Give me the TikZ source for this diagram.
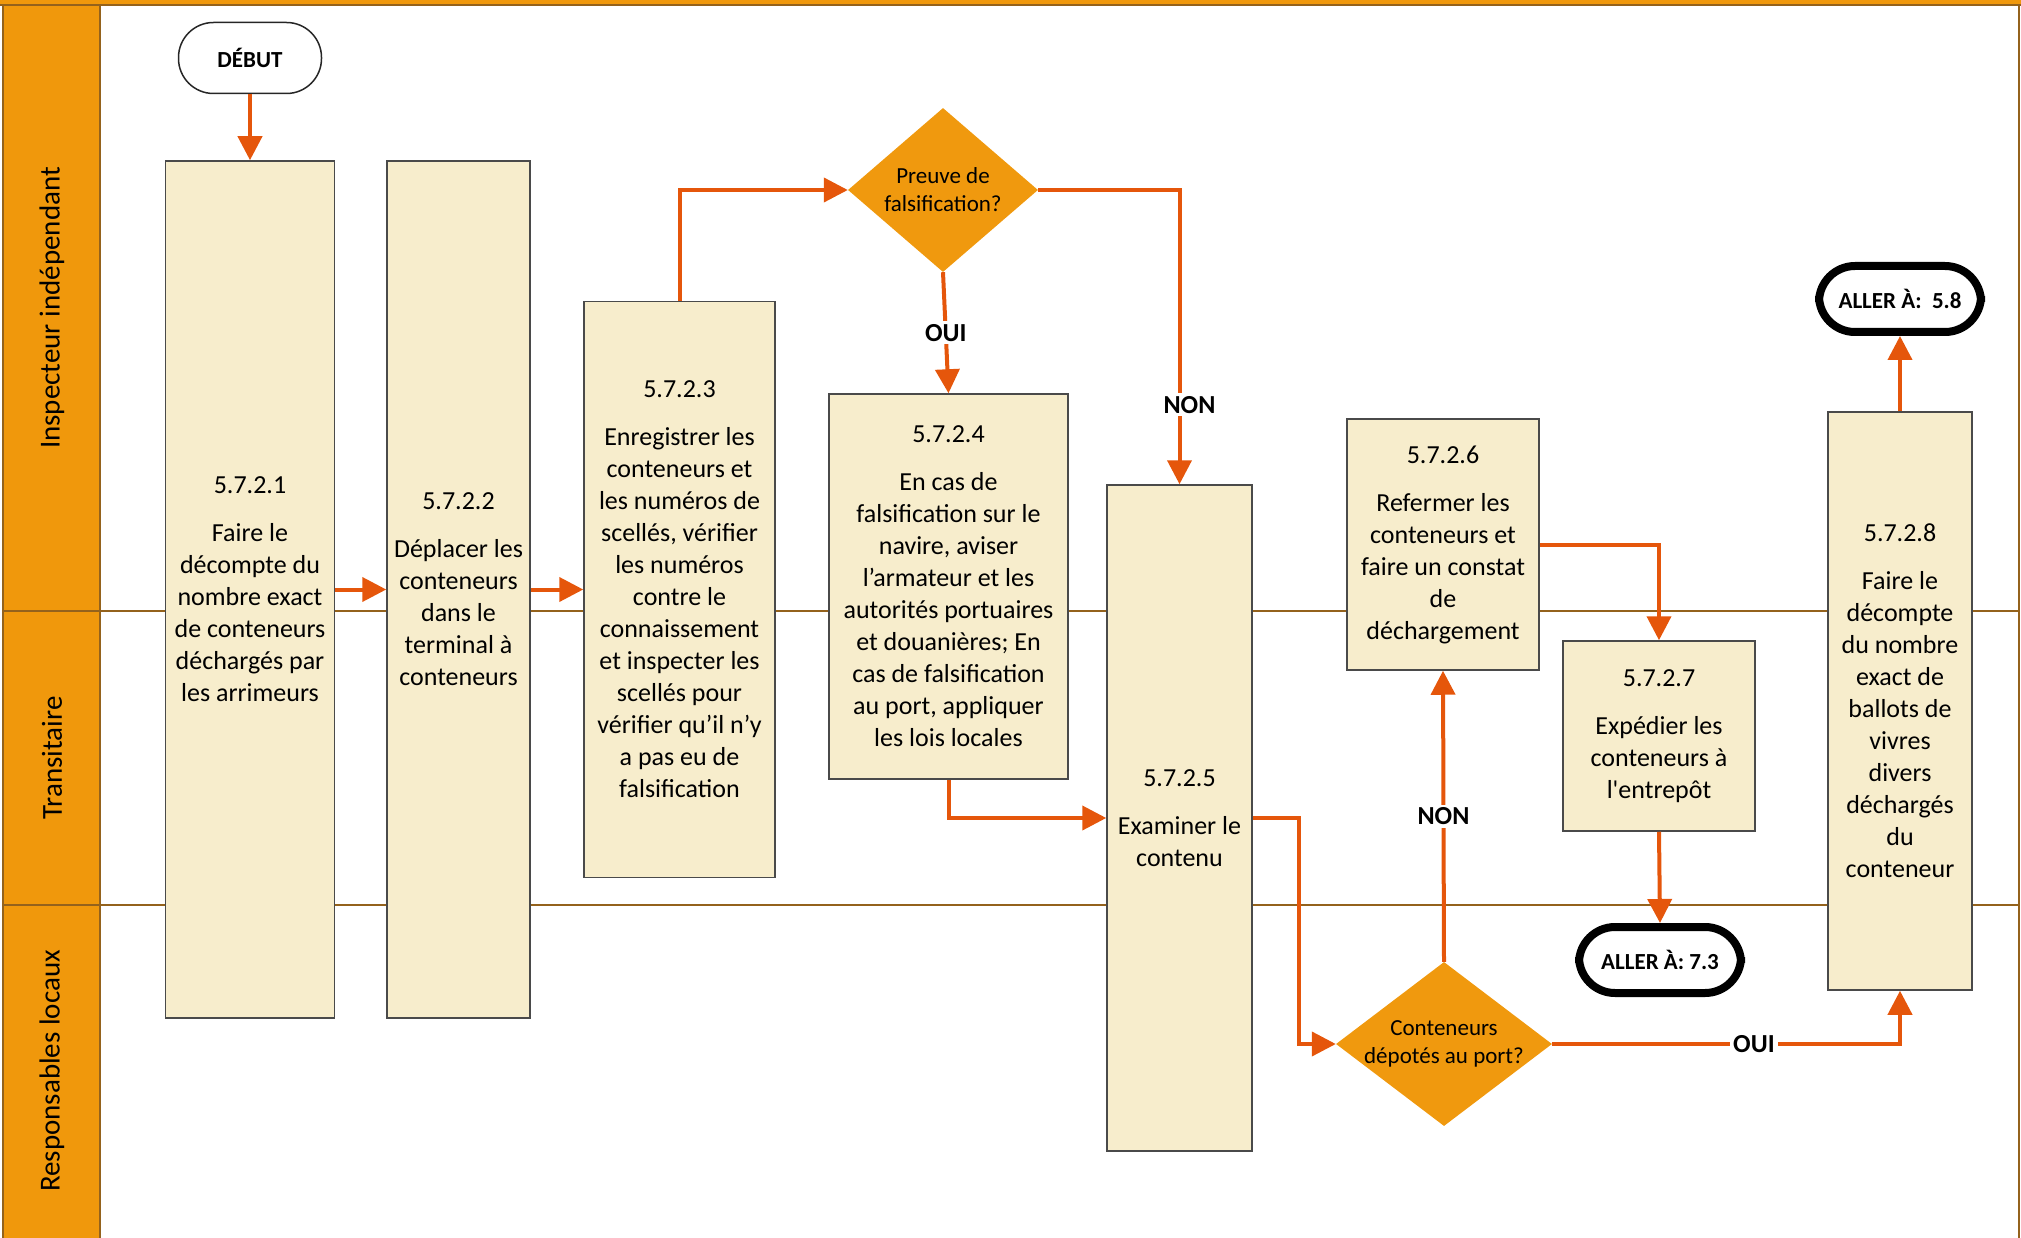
\documentclass[tikz,border=0pt]{standalone}
\usepackage{fontspec}
\setmainfont{Carlito}[Ligatures=TeXOff]
\usetikzlibrary{arrows.meta,shapes.geometric}

\definecolor{laneorange}{HTML}{F0980C}
\definecolor{lanebrown}{HTML}{94621C}
\definecolor{stepfill}{HTML}{F7EDCC}
\definecolor{stepdraw}{HTML}{4A4A4A}
\definecolor{flow}{HTML}{E5560B}
\definecolor{decision}{HTML}{F0990E}

\begin{document}
\begin{tikzpicture}[x=1pt,y=-1pt,
  stepbox/.style={draw=stepdraw,fill=stepfill,line width=1.5pt,inner sep=0pt,
    align=center,font=\fontsize{26}{32}\selectfont},
  decisionbox/.style={diamond,fill=decision,draw=none,inner sep=-18pt,
    align=center,font=\fontsize{23}{28}\selectfont},
  startbox/.style={draw=black!85,fill=white,line width=1.5pt,rounded corners=35pt,
    minimum width=143pt,minimum height=71pt,inner sep=0pt,
    font=\bfseries\fontsize{23}{27}\selectfont},
  gotobox/.style={draw=black,fill=white,line width=8pt,rounded corners=36pt,
    minimum width=162pt,minimum height=66pt,inner sep=0pt,
    font=\bfseries\fontsize{23}{27}\selectfont},
  flowline/.style={draw=flow,line width=4pt,-{Triangle[length=24pt,width=24pt]}},
  flowlabel/.style={fill=white,inner sep=3pt,text=black,
    font=\bfseries\fontsize{26}{30}\selectfont},
  lanetitle/.style={rotate=90,font=\fontsize{29}{34}\selectfont}
]
\useasboundingbox (0,0) rectangle (2021,1238);

% swimlane frame
\fill[laneorange] (0,0) rectangle (2021,5);
\draw[lanebrown,line width=1.2pt] (0,5) -- (2021,5);
\path[fill=laneorange,draw=lanebrown,line width=1.5pt] (3,5) rectangle (100,1242);
\draw[lanebrown,line width=1.5pt] (3,611) -- (2019,611);
\draw[lanebrown,line width=1.5pt] (3,905) -- (2019,905);
\draw[lanebrown,line width=1.5pt] (2019,5) -- (2019,1242);

\node[lanetitle] (laneA) at (52,308) {Inspecteur indépendant};
\node[lanetitle] (laneB) at (52,758) {Transitaire};
\node[lanetitle] (laneC) at (52,1071) {Responsables locaux};

% terminals
\node[startbox] (debut) at (250,58) {DÉBUT};
\node[gotobox] (go58) at (1900,299) {ALLER À:\ \ 5.8};
\node[gotobox] (go73) at (1660,960) {ALLER À: 7.3};

% process steps
\node[stepbox,minimum width=169pt,minimum height=857pt] (b1) at (250,589.5)
  {5.7.2.1\\[16pt]Faire le\\décompte du\\nombre exact\\de conteneurs\\déchargés par\\les arrimeurs};
\node[stepbox,minimum width=143pt,minimum height=857pt] (b2) at (458.5,589.5)
  {5.7.2.2\\[16pt]Déplacer les\\conteneurs\\dans le\\terminal à\\conteneurs};
\node[stepbox,minimum width=191pt,minimum height=576pt] (b3) at (679.5,589.5)
  {5.7.2.3\\[16pt]Enregistrer les\\conteneurs et\\les numéros de\\scellés, vérifier\\les numéros\\contre le\\connaissement\\et inspecter les\\scellés pour\\vérifier qu’il n’y\\a pas eu de\\falsification};
\node[stepbox,minimum width=239pt,minimum height=385pt] (b4) at (948.5,586.5)
  {5.7.2.4\\[16pt]En cas de\\falsification sur le\\navire, aviser\\l’armateur et les\\autorités portuaires\\et douanières; En\\cas de falsification\\au port, appliquer\\les lois locales};
\node[stepbox,minimum width=145pt,minimum height=666pt] (b5) at (1179.5,818)
  {5.7.2.5\\[16pt]Examiner le\\contenu};
\node[stepbox,minimum width=192pt,minimum height=251pt] (b6) at (1443,544.5)
  {5.7.2.6\\[16pt]Refermer les\\conteneurs et\\faire un constat\\de\\déchargement};
\node[stepbox,minimum width=192pt,minimum height=190pt] (b7) at (1659,736)
  {5.7.2.7\\[16pt]Expédier les\\conteneurs à\\l'entrepôt};
\node[stepbox,minimum width=144pt,minimum height=578pt] (b8) at (1900,701)
  {5.7.2.8\\[16pt]Faire le\\décompte\\du nombre\\exact de\\ballots de\\vivres\\divers\\déchargés\\du\\conteneur};

% decisions
\node[decisionbox,minimum width=190pt,minimum height=164pt] (d1) at (943,190)
  {Preuve de\\falsification?};
\node[decisionbox,minimum width=216pt,minimum height=164pt] (d2) at (1444,1044)
  {Conteneurs\\dépotés au port?};

% connectors
\coordinate (j1) at (1299,818);
\draw[flowline] (debut) -- (b1);
\draw[flowline] (b1) -- (b2);
\draw[flowline] (b2) -- (b3);
\draw[flowline] (b3.north) |- (d1.west);
\draw[flowline] (d1.south) -- node[flowlabel,pos=0.5] {OUI} (b4.north);
\draw[flowline] (d1.east) -| node[flowlabel,pos=0.865,xshift=10pt] {NON} (b5.north);
\draw[flowline] (b4.south) |- (b5.west);
\draw[flowline] (b5.east) -- (j1) |- (d2.west);
\draw[flowline] (d2.north) -- node[flowlabel,pos=0.5] {NON} (b6.south);
\draw[flowline] (b6.east) -| (b7.north);
\draw[flowline] (b7.south) -- (go73.north);
\draw[flowline] (d2.east) -| node[flowlabel,pos=0.29] {OUI} (b8.south);
\draw[flowline] (b8.north) -- (go58.south);
\end{tikzpicture}
\end{document}
